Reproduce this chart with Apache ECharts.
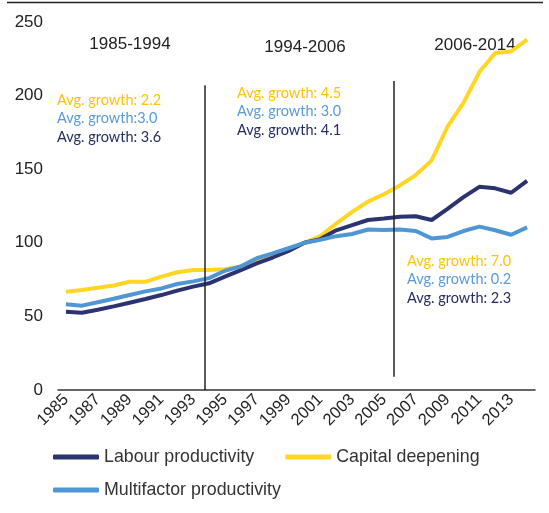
<!DOCTYPE html>
<html>
<head>
<meta charset="utf-8">
<script src="https://cdn.jsdelivr.net/npm/echarts@6/dist/echarts.min.js"></script>
<style>
  html, body { margin: 0; padding: 0; background: #fff; }
  #chart { width: 549px; height: 513px; }
</style>
</head>
<body>
<div id="chart"></div>
<script>
// years on the x axis
var years = []
for (var y = 1985; y <= 2014; y++) years.push(String(y))

var labour = [53.2, 52.5, 54.5, 56.8, 59.3, 61.8, 64.5, 67.5, 70.2, 72.5,
  77, 81.5, 86, 90, 94.5, 100, 102.5, 108.5, 112, 115.5,
  116.5, 117.7, 118, 115.5, 123, 131, 138, 137, 134, 142]
var capital = [66.8, 68, 69.5, 71, 73.5, 73.5, 77, 80, 81.5, 81.5,
  82, 84, 87.5, 90.5, 94.5, 100, 104.5, 113, 121, 128,
  133, 139, 146, 156, 179, 195, 216, 229, 230, 238]
var multifactor = [58.2, 57.3, 59.6, 62, 64.5, 67, 69, 72, 73.8, 76,
  81, 84, 89.5, 92.8, 96.3, 100, 102, 104.5, 106, 109,
  108.7, 109, 108, 103, 104, 108, 111, 108.5, 105.5, 110.5]

// period breaks (fractional category index) and their vertical extent
var breaks = [
  { idx: 8.75, from: 0, to: 207 },
  { idx: 20.6, from: 9, to: 210 }
]
var periods = ['1985-1994', '1994-2006', '2006-2014']
var growthCapital = ['2.2', '4.5', '7.0']
var growthMfp = ['3.0', '3.0', '0.2']
var growthLabour = ['3.6', '4.1', '2.3']

var cNavy = '#2B3471'
var cYellow = '#FFD624'
var cBlue = '#4F97D4'
var tYellow = '#FFC20E'
var tBlue = '#5B9BD5'
var tNavy = '#252D5E'

var chart = echarts.init(document.getElementById('chart'))

var annFont = '14.5px Lato'
var graphics = [
  { type: 'line', shape: { x1: 7, y1: 2.5, x2: 543, y2: 2.5 }, style: { stroke: '#222', lineWidth: 1.5 } }
]
var periodPos = [[130, 44], [305, 47], [475, 45]]
periods.forEach(function (p, i) {
  graphics.push({
    type: 'text', x: periodPos[i][0], y: periodPos[i][1],
    style: { text: p, font: '17px "Liberation Sans"', fill: '#222', align: 'center', verticalAlign: 'middle' }
  })
})
var annPos = [[57, 100], [237, 93], [407, 261]]
annPos.forEach(function (pos, i) {
  graphics.push({ type: 'text', x: pos[0], y: pos[1],
    style: { text: 'Avg. growth: ' + growthCapital[i], font: annFont, fill: tYellow, verticalAlign: 'middle' } })
  graphics.push({ type: 'text', x: pos[0], y: pos[1] + 18.5,
    style: { text: (i === 0 ? 'Avg. growth:' : 'Avg. growth: ') + growthMfp[i], font: annFont, fill: tBlue, verticalAlign: 'middle' } })
  graphics.push({ type: 'text', x: pos[0], y: pos[1] + 37,
    style: { text: 'Avg. growth: ' + growthLabour[i], font: annFont, fill: tNavy, verticalAlign: 'middle' } })
})

var legendText = { fontSize: 17.8, color: '#333', fontFamily: 'Liberation Sans' }

chart.setOption({
  animation: false,
  textStyle: { fontFamily: 'Liberation Sans' },
  grid: { left: 58, right: 14, top: 22, bottom: 123 },
  legend: [
    {
      data: ['Labour productivity', 'Capital deepening'],
      left: 48, top: 443, itemWidth: 46, itemHeight: 5, itemGap: 31,
      icon: 'roundRect', textStyle: legendText
    },
    {
      data: ['Multifactor productivity'],
      left: 48, top: 476, itemWidth: 46, itemHeight: 5,
      icon: 'roundRect', textStyle: legendText
    }
  ],
  xAxis: [
    {
      type: 'category',
      data: years,
      boundaryGap: true,
      axisLine: { lineStyle: { color: '#333', width: 1.5 } },
      axisTick: { show: false },
      axisLabel: { interval: 1, rotate: 45, fontSize: 16.5, color: '#222', margin: 7 }
    },
    {
      // hidden index axis so the period breaks can sit between years
      type: 'value', min: -0.5, max: years.length - 0.5, show: false
    }
  ],
  yAxis: {
    type: 'value',
    min: 0, max: 250, interval: 50,
    axisLine: { show: false },
    axisTick: { show: false },
    splitLine: { show: false },
    axisLabel: { fontSize: 17, color: '#222', margin: 15 }
  },
  series: [
    {
      name: 'Labour productivity', type: 'line', data: labour,
      showSymbol: false, symbol: 'none', z: 3,
      lineStyle: { color: cNavy, width: 4 }, itemStyle: { color: cNavy }
    },
    {
      name: 'Capital deepening', type: 'line', data: capital,
      showSymbol: false, symbol: 'none', z: 2,
      lineStyle: { color: cYellow, width: 4 }, itemStyle: { color: cYellow }
    },
    {
      name: 'Multifactor productivity', type: 'line', data: multifactor,
      showSymbol: false, symbol: 'none', z: 4,
      lineStyle: { color: cBlue, width: 4 }, itemStyle: { color: cBlue }
    },
    {
      name: 'breaks', type: 'line', xAxisIndex: 1, data: [],
      markLine: {
        silent: true, symbol: 'none', label: { show: false },
        lineStyle: { color: '#222', width: 1.5, type: 'solid' },
        data: breaks.map(function (b) {
          return [{ coord: [b.idx, b.from] }, { coord: [b.idx, b.to] }]
        })
      }
    }
  ],
  graphic: graphics
})
</script>
</body>
</html>
